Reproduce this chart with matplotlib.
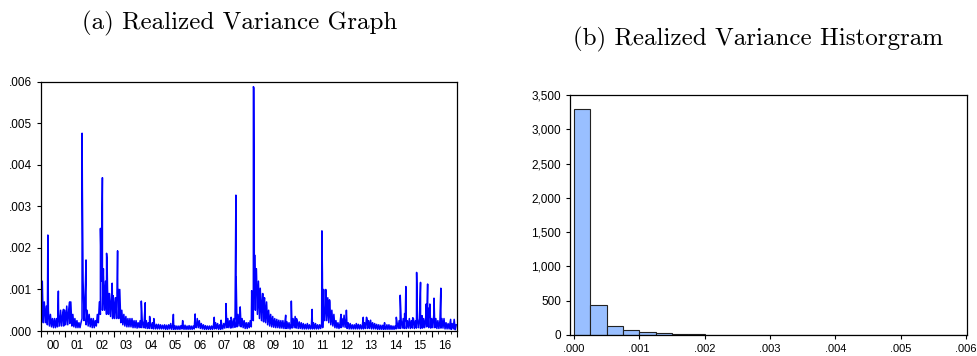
import numpy as np
import matplotlib.pyplot as plt
from matplotlib.ticker import FuncFormatter, MultipleLocator

# ---------- realized variance, monthly band (upper / lower), units of 1e-4 ----------
years = list(range(2000, 2017))

rv_hi = [
    [12, 7, 6, 5, 4, 3, 3, 3, 4, 5, 4, 5],                       # 2000
    [6, 5, 7, 4, 3, 2.5, 2, 2, 12, 8, 5, 4],                     # 2001
    [3, 3, 2.5, 4, 7, 12, 14, 12, 10, 9, 8, 7],                  # 2002
    [8, 9, 10, 5, 4, 3.5, 3, 3, 3, 2.5, 2.5, 2],                 # 2003
    [2.5, 2.5, 2.5, 2.5, 2, 2, 2, 1.8, 1.6, 1.6, 1.5, 1.4],      # 2004
    [1.5, 1.4, 1.5, 1.8, 1.5, 1.3, 1.2, 1.2, 1.3, 1.6, 1.4, 1.2],  # 2005
    [1.3, 1.2, 1.2, 1.5, 3, 2.5, 1.8, 1.5, 1.3, 1.2, 1.2, 1.2],   # 2006
    [1.5, 2, 1.8, 1.5, 1.5, 1.8, 2.5, 3, 2.5, 2.5, 3, 3],        # 2007
    [4, 5, 3, 2.5, 2, 2, 2.5, 3, 8, 15, 12, 9],                  # 2008
    [9, 8, 7, 5, 4, 3.5, 3, 2.8, 2.6, 2.5, 2.5, 2.2],            # 2009
    [2.2, 2, 1.8, 3, 3.5, 2.5, 2.2, 2, 1.8, 1.6, 1.8, 1.5],      # 2010
    [1.5, 2, 1.8, 1.5, 1.5, 1.8, 3, 10, 8, 7, 5, 4],             # 2011
    [2.5, 2, 1.8, 3, 3.8, 3, 2, 1.8, 1.5, 1.5, 1.8, 1.6],        # 2012
    [1.5, 1.5, 2, 3.3, 2.5, 2.6, 2, 1.8, 1.6, 1.5, 1.4, 1.4],    # 2013
    [1.3, 1.5, 1.5, 1.3, 1.2, 1.2, 2, 2.5, 2.5, 3, 2.5, 2.5],    # 2014
    [3, 2.5, 3, 2.5, 3, 3, 2.5, 3, 3, 5, 3.5, 3],                # 2015
    [4, 3, 2.5, 2.5, 3, 3, 2, 1.8, 2, 1.8, 2.8, 1.5],            # 2016
]

rv_lo = [
    [2.5, 2, 2, 1.5, 1.2, 1, 0.8, 0.8, 1, 1.2, 1.2, 1.2],
    [1.5, 1.5, 1.8, 1.2, 1, 0.8, 0.8, 0.8, 3, 2.5, 1.5, 1.2],
    [1, 0.8, 0.8, 1.2, 2, 4, 5, 5, 4, 4, 3.5, 3],
    [3, 3, 3, 2, 1.5, 1.2, 1, 1, 1, 0.8, 0.8, 0.7],
    [0.8, 0.8, 0.8, 0.7, 0.6, 0.6, 0.6, 0.5, 0.5, 0.5, 0.5, 0.5],
    [0.5, 0.4, 0.4, 0.5, 0.4, 0.4, 0.4, 0.4, 0.4, 0.5, 0.4, 0.4],
    [0.4, 0.4, 0.4, 0.5, 0.8, 0.8, 0.6, 0.5, 0.4, 0.4, 0.4, 0.4],
    [0.4, 0.5, 0.5, 0.4, 0.4, 0.5, 0.7, 0.8, 0.8, 0.7, 0.8, 0.9],
    [1, 1.2, 1, 0.8, 0.6, 0.6, 0.8, 1, 2.5, 5, 4, 3],
    [2.5, 2.2, 2, 1.5, 1.2, 1, 0.9, 0.8, 0.8, 0.7, 0.7, 0.6],
    [0.6, 0.6, 0.5, 0.7, 0.8, 0.7, 0.6, 0.6, 0.5, 0.5, 0.5, 0.5],
    [0.5, 0.5, 0.5, 0.5, 0.5, 0.6, 0.8, 2.5, 2.5, 2, 1.5, 1.2],
    [0.8, 0.7, 0.6, 0.8, 1, 0.9, 0.6, 0.5, 0.5, 0.5, 0.5, 0.5],
    [0.5, 0.5, 0.5, 0.6, 0.6, 0.6, 0.5, 0.5, 0.5, 0.4, 0.4, 0.4],
    [0.4, 0.4, 0.4, 0.4, 0.4, 0.4, 0.5, 0.6, 0.6, 0.7, 0.6, 0.6],
    [0.7, 0.6, 0.7, 0.6, 0.7, 0.8, 0.6, 0.7, 0.8, 1, 0.8, 0.7],
    [0.8, 0.8, 0.6, 0.6, 0.7, 0.7, 0.5, 0.5, 0.5, 0.4, 0.5, 0.3],
]

# isolated high-volatility days (decimal year, units of 1e-4)
spike_t = [2000.02, 2000.06, 2000.12, 2000.29, 2000.72, 2000.93,
           2001.18, 2001.69, 2001.70, 2001.73, 2001.76, 2001.85,
           2002.44, 2002.52, 2002.56, 2002.69, 2002.71, 2002.78, 2002.92, 2002.96,
           2003.05, 2003.14, 2003.17,
           2004.11, 2004.27, 2004.45, 2004.62,
           2005.42, 2005.80, 2006.31, 2006.40,
           2007.09, 2007.37, 2007.57, 2007.78, 2007.975, 2007.985,
           2008.15, 2008.62, 2008.69, 2008.71, 2008.72, 2008.74, 2008.78, 2008.82, 2008.97,
           2009.08, 2009.13, 2009.22,
           2010.01, 2010.24, 2010.45, 2011.09,
           2011.49, 2011.51, 2011.56, 2011.64, 2011.73, 2011.80,
           2012.27, 2012.49, 2013.18, 2013.34,
           2014.05, 2014.53, 2014.69, 2014.87, 2014.92,
           2015.20, 2015.36, 2015.52, 2015.58, 2015.75, 2015.81, 2015.86, 2015.90,
           2016.07, 2016.35, 2016.75]
spike_v = [11.5, 6.8, 6.5, 23.1, 9.6, 5.2,
           7.0, 47.6, 35.0, 12.0, 6.0, 17.1,
           24.7, 36.9, 15.0, 18.7, 17.2, 9.0, 11.5, 8.5,
           8.0, 19.3, 10.0,
           7.2, 6.8, 3.5, 3.0,
           4.0, 2.5, 4.1, 2.8,
           3.3, 2.6, 6.6, 3.3, 32.7, 13.0,
           5.8, 9.7, 58.8, 58.5, 42.0, 18.3, 14.6, 13.3, 10.3,
           9.0, 7.5, 6.0,
           3.8, 7.2, 3.0, 5.2,
           24.1, 13.8, 10.0, 8.0, 8.0, 7.5,
           4.0, 5.0, 3.3, 2.7,
           2.0, 3.3, 8.6, 4.2, 10.7,
           3.2, 14.1, 11.7, 3.7, 6.5, 11.3, 5.5, 6.5,
           7.9, 10.3, 2.8]

# ---------- histogram of realized variance ----------
bin_edges = np.arange(0, 0.006 + 1e-9, 0.00025)
bin_counts = [3300, 435, 130, 68, 42, 22, 14, 9, 7, 5, 4, 3,
              2, 2, 2, 1, 1, 1, 0, 1, 1, 0, 1, 2]

# assemble the series: lower / upper band point per month, plus the spikes
t_pts, v_pts = [], []
for yi, yr in enumerate(years):
    for m in range(12):
        t_pts += [yr + (m + 0.25) / 12, yr + (m + 0.75) / 12]
        v_pts += [rv_lo[yi][m], rv_hi[yi][m]]
t_pts += spike_t
v_pts += spike_v
order = np.argsort(t_pts, kind="stable")
t_arr = np.asarray(t_pts)[order]
v_arr = np.asarray(v_pts)[order] * 1e-4

plt.rcParams["font.family"] = ["Liberation Sans", "DejaVu Sans"]
plt.rcParams["font.size"] = 8.5

fig = plt.figure(figsize=(9.77, 3.56), dpi=100)
ax1 = fig.add_axes([0.0417, 0.0702, 0.4258, 0.7003])
ax2 = fig.add_axes([0.5834, 0.059, 0.4066, 0.6742])

dec = FuncFormatter(lambda v, pos: f"{v:.3f}".lstrip("0"))

# (a) time series
ax1.plot(t_arr, v_arr, color="#0000ff", linewidth=1.1)
ax1.set_xlim(2000, 2017)
ax1.set_ylim(0, 0.006)
ax1.yaxis.set_major_locator(MultipleLocator(0.001))
ax1.yaxis.set_major_formatter(dec)
ax1.xaxis.set_major_locator(MultipleLocator(1))
ax1.xaxis.set_minor_locator(MultipleLocator(0.25))
ax1.xaxis.set_major_formatter(FuncFormatter(lambda v, pos: ""))
ax1.tick_params(axis="x", which="major", length=4, width=0.8, direction="out")
ax1.tick_params(axis="x", which="minor", length=2, width=0.6, direction="out")
ax1.tick_params(axis="y", length=3, width=0.8, direction="out")

# two-digit year labels centred inside each year
xlab = ax1.get_xaxis_transform()
for y in years:
    ax1.text(y + 0.5, -0.035, f"{y % 100:02d}", transform=xlab,
             ha="center", va="top", fontsize=8.5)

# (b) histogram
ax2.bar(bin_edges[:-1], bin_counts, width=0.00025, align="edge",
        color="#99bfff", edgecolor="#222222", linewidth=0.8)
ax2.set_xlim(-0.00006, 0.00602)
ax2.set_ylim(0, 3500)
ax2.xaxis.set_major_locator(MultipleLocator(0.001))
ax2.xaxis.set_major_formatter(dec)
ax2.yaxis.set_major_locator(MultipleLocator(500))
ax2.yaxis.set_major_formatter(FuncFormatter(lambda v, pos: f"{v:,.0f}"))
ax2.tick_params(length=3, width=0.8, direction="out")
ax2.tick_params(axis="x", labelsize=8)

for ax in (ax1, ax2):
    for s in ax.spines.values():
        s.set_linewidth(0.9)

fig.text(0.2450, 0.935, "(a) Realized Variance Graph", family="cmr10",
         fontsize=18, ha="center", va="center")
fig.text(0.7760, 0.888, "(b) Realized Variance Historgram", family="cmr10",
         fontsize=18, ha="center", va="center")

fig.savefig("out.png", dpi=100)
